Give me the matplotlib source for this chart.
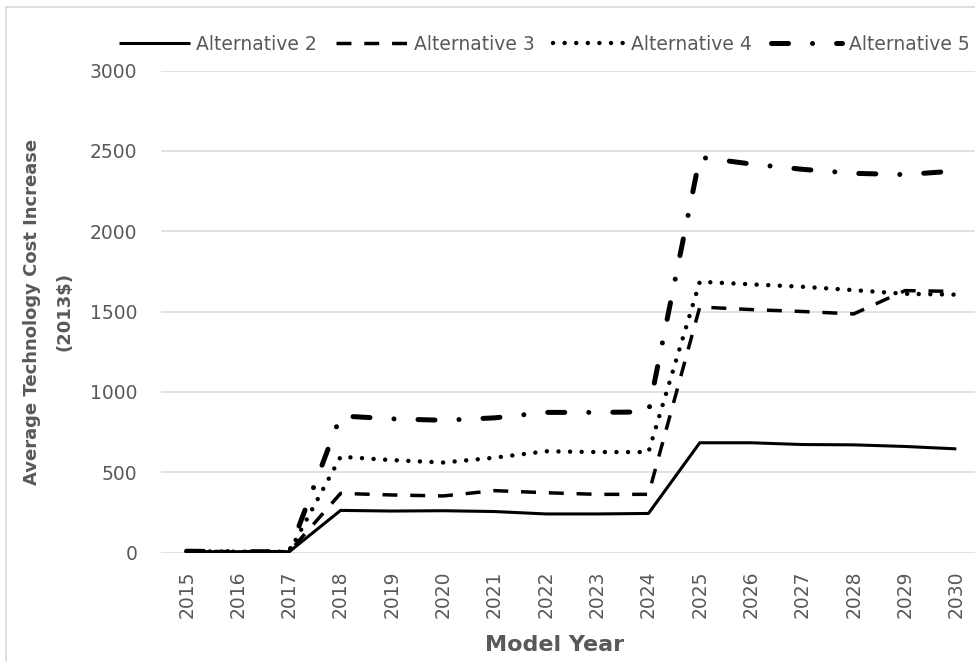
import numpy as np
import matplotlib.pyplot as plt
from matplotlib.lines import Line2D

plt.rcParams['font.family'] = ['DejaVu Sans']

years = list(range(2015, 2031))
alt2 = [5, 5, 5, 262, 258, 260, 255, 240, 240, 243, 683, 683, 672, 670, 660, 645]
alt3 = [8, 5, 5, 368, 358, 352, 385, 372, 362, 362, 1528, 1512, 1500, 1485, 1630, 1625]
alt4 = [8, 5, 5, 596, 575, 560, 590, 630, 625, 625, 1685, 1669, 1654, 1633, 1610, 1605]
alt5 = [8, 5, 5, 850, 832, 823, 838, 872, 872, 875, 2460, 2418, 2385, 2360, 2352, 2375]
labels = ["Alternative 2", "Alternative 3", "Alternative 4", "Alternative 5"]

gray = "#595959"

fig = plt.figure(figsize=(9.75, 6.62), dpi=100)
ax = fig.add_axes([161/975, 1 - 552.5/662, (982 - 161)/975, 482/662])

l2, = ax.plot(years, alt2, color="black", lw=2.2, solid_capstyle="butt")
l3, = ax.plot(years, alt3, color="black", lw=2.5, linestyle=(0, (4.3, 3.7)))
l4, = ax.plot(years, alt4, color="black", lw=3.2, linestyle=(0, (0.01, 2.6)),
              dash_capstyle="round")
l5, = ax.plot(years, alt5, color="black", lw=3.6,
              linestyle=(0, (3.4, 4.8, 0.01, 4.8)), dash_capstyle="round")

ax.set_xlim(2014.5, 2030.5)
ax.set_ylim(0, 3000)
ax.set_xticks(years)
ax.set_xticklabels([str(y) for y in years], rotation=90)
ax.set_yticks(range(0, 3001, 500))
ax.grid(axis="y", color="#d9d9d9", lw=1.1)
ax.set_axisbelow(True)
for s in ax.spines.values():
    s.set_visible(False)
ax.tick_params(axis="both", length=0, labelsize=13.5, colors=gray)
ax.tick_params(axis="y", pad=17)
ax.tick_params(axis="x", pad=13)

ax.set_xlabel("Model Year", fontsize=16, fontweight="bold", color=gray)
ax.xaxis.set_label_coords((555 - 161) / (982 - 161), -(645 - 552.5) / 482)
ax.xaxis.label.set_verticalalignment("center")
ax.set_ylabel("Average Technology Cost Increase\n(2013$)", fontsize=13,
              fontweight="bold", color=gray, linespacing=2.05)
ax.yaxis.set_label_coords(-(161 - 48) / (982 - 161), 0.5)
ax.yaxis.label.set_verticalalignment("center")

fig.legend([l2, l3, l4, l5], labels, ncol=4, loc="center",
           bbox_to_anchor=(544/975, 1 - 44/662), frameon=False,
           fontsize=13.5, labelcolor=gray, handlelength=3.8,
           handletextpad=0.35, columnspacing=1.0)

# outer chart border
fig.add_artist(Line2D([6/975, 6/975], [0, 1 - 7/662], color="#d9d9d9", lw=1.2))
fig.add_artist(Line2D([6/975, 1], [1 - 7/662, 1 - 7/662], color="#d9d9d9", lw=1.2))

fig.savefig("out.png", dpi=100)
